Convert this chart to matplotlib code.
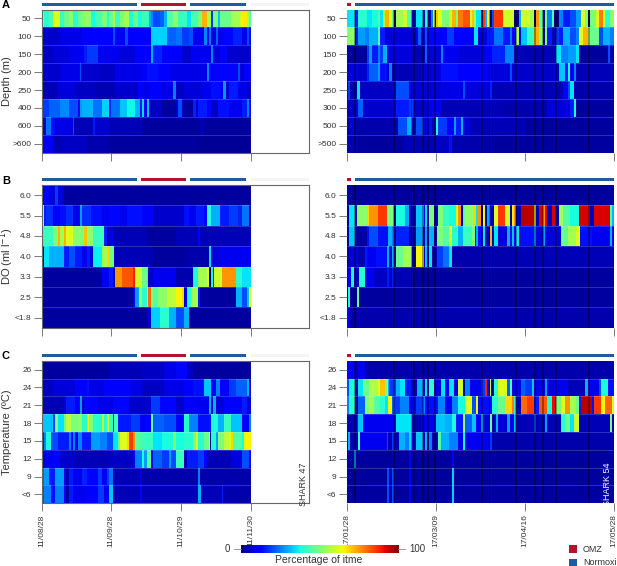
import numpy as np
import matplotlib
matplotlib.use("Agg")
import matplotlib.pyplot as plt
from matplotlib.patches import Rectangle

plt.rcParams['font.family'] = ['Liberation Sans', 'DejaVu Sans']

# Each row: (start day, percentage of time) change points
depth47_labels = ['50', '100', '150', '200', '250', '400', '600', '>600']
depth47 = [
 [(0,55),(1,40),(3,45),(5,62),(8,42),(10,48),(12,52),(14,40),(16,48),(18,52),(22,38),(24,44),(27,50),(29,40),(30,48),(32,58),(33,42),(35,50),(37,55),(39,38),(41,48),(43,38),(45,42),(48,30),(49,25),(50,20),(53,22),(55,30),(56,45),(59,52),(61,42),(65,35),(67,44),(70,50),(72,72),(74,55),(76,18),(77,50),(79,32),(80,48),(85,55),(89,60),(90,66),(92,55),(93,45)],
 [(0,7),(8,9),(18,11),(32,20),(33,10),(37.5,20),(38.5,11),(49,33),(56,22),(60,24),(63,18),(66,20),(68,10),(73,26),(74,10),(75,24),(76,8),(78,22),(79,10),(82,13),(86,16),(90,10),(92,20),(93,10)],
 [(0,6),(5,8),(12,10),(19,15),(20,18),(25,10),(35,8),(42,11),(49,30),(50,16),(54,11),(63,7),(67,10),(75,8),(76,25),(77,8),(80,12),(83,7)],
 [(0,7),(8,9),(17,20),(17.6,7),(25,6),(33,9),(45,11),(47,14),(52,12),(58,9),(74,26),(75,11),(80,13),(88,20),(89,8),(91,12)],
 [(0,5),(7,8),(15,6),(24,5),(33,7),(43,12),(46,9),(48,12),(54,9),(59,25),(60,6),(64,8),(72,10),(76,14),(80,11),(81.5,28),(82.5,8),(84,15),(88,9),(92,6)],
 [(0,18),(3,22),(8,26),(12,20),(16,10),(17,28),(18,30),(23,24),(27,33),(30,15),(31,24),(35,32),(38,37),(42,30),(44,14),(45,34),(46,12),(47,32),(48,6),(54,3),(60,6),(61,20),(63,6),(64,3),(68,16),(69,6),(70,15),(74,12),(76,6),(79,14),(84,10),(90,15),(92,25),(93,10)],
 [(0,9),(1,6),(2,24),(4,14),(6,9),(14,20),(14.5,5),(23,15),(24,7),(30,5),(45,3),(71,5),(73,3)],
 [(0,10),(5,5),(10,6),(20,4),(30,3),(70,2)],
]
do_labels = ['6.0', '5.5', '4.8', '4.0', '3.3', '2.5', '<1.8']
do47 = [
 [(0,8),(1,12),(3,8),(6,18),(7,8),(10,3)],
 [(0,60),(0.7,15),(2,17),(5,12),(8,14),(11,17),(14,9),(17,28),(18,17),(22,14),(27,10),(30,13),(35,10),(38,14),(45,11),(50,7),(64,14),(66,10),(69,15),(73,12),(74,40),(76,30),(80,15),(84,18),(88,16),(90,24),(93,5)],
 [(0,42),(5,50),(7,72),(8,55),(10,72),(11,62),(14,52),(17,50),(19,70),(20,52),(23,42),(28,15),(29,6),(30,9),(32,5),(47,3),(60,5),(70,12),(71,5)],
 [(0,8),(1,35),(3,30),(10,15),(12,20),(15,15),(18,10),(20,15),(21.5,8),(23,36),(27,55),(29,68),(30,48),(32.5,5),(50,3),(65,4),(75,35),(76,8),(80,10)],
 [(0,3),(27,10),(30,15),(32,7),(33,75),(36,82),(41,88),(42,60),(45,48),(47,40),(47.5,6),(50,10),(60,4),(68,38),(70,55),(74,62),(75,3),(76,38),(77,5),(77.5,60),(81,75),(87,40),(90,35)],
 [(0,3),(41,12),(42,28),(43.5,50),(45,40),(47,60),(47.5,80),(49,50),(50,45),(52,52),(56,58),(60,65),(63,68),(64,10),(65,40),(67,55),(70,15),(71,3),(87,30),(90,20),(92,32),(93,60)],
 [(0,3),(47.5,8),(49,33),(53,40),(57,30),(60,20),(64,30),(66,10),(66.5,3)],
]
temp_labels = ['26', '24', '21', '18', '15', '12', '9', '<6']
temp47 = [
 [(0,3),(30,5),(45,6),(55,9),(60,13),(65,6),(68,3)],
 [(0,6),(5,8),(15,12),(20,14),(21,9),(28,11),(40,9),(45,6),(55,9),(64,11),(68,14),(73,32),(76,12),(78,25),(80,12),(84,18),(87,22),(92,30),(93,6)],
 [(0,5),(10,7),(11,15),(15,11),(17,28),(18,6),(19,13),(25,9),(32,13),(39,7),(49,18),(53,13),(60,7),(64,12),(68,10),(75,30),(76,8),(77,30),(78,8),(82,12),(90,15),(92,8)],
 [(0,32),(5,18),(6,52),(7,35),(10,48),(11,58),(13,50),(16,52),(18,40),(20,65),(21,50),(23,40),(27,58),(28,40),(29,60),(30,42),(32,15),(32.5,42),(34,15),(40,18),(44,12),(49,48),(50,22),(55,20),(60,13),(64,40),(66,25),(70,14),(75,15),(76,38),(79,30),(82,42),(85,32),(90,12),(93,25)],
 [(0,15),(1,25),(2,38),(4,20),(7,15),(12,25),(13,12),(14,25),(15,10),(16,25),(18,15),(22,28),(26,25),(29,20),(32,35),(34,48),(35,62),(38,68),(39,85),(41,75),(42,45),(45,42),(50,35),(54,38),(59,50),(60,38),(64,40),(68,50),(69,62),(70,40),(73,48),(75,62),(75.5,5),(76,40),(78,28),(79,50),(82,58),(84,62),(85,68),(86,45),(90,38),(91,65)],
 [(0,8),(2,10),(5,12),(8,7),(15,5),(30,6),(41,12),(42,25),(45,38),(46,28),(47,45),(49,10),(50,22),(54,18),(57,28),(58,20),(60,42),(64,5),(65,15),(70,18),(73,12),(74,5),(85,8),(90,20),(93,10)],
 [(0,22),(1,28),(3,15),(6,28),(10,10),(11,4),(12,15),(14,10),(18,16),(20,12),(25,18),(27,10),(29,18),(30,24),(32,5),(44,8),(45,4),(70,25),(71,4)],
 [(0,20),(1,25),(4,14),(6,25),(10,12),(11,3),(12,15),(14,10),(20,12),(25,18),(28,10),(30,32),(32,5),(44,12),(45,5),(70,30),(71.5,5),(80,4),(81,15),(81.5,4)],
]
depth54_labels = ['50', '100', '150', '200', '250', '300', '500', '>500']
depth54 = [
 [(0,35),(3.5,0),(4,15),(5,40),(9,35),(11,38),(14,45),(15,35),(16,58),(17,72),(19,62),(20,48),(21,0),(22,55),(25,60),(27,45),(29,5),(31,35),(34,5),(35,40),(36.5,5),(37.5,25),(38.5,60),(39.5,5),(40,70),(41,62),(42.5,50),(46,60),(47,72),(49,50),(50,78),(52,82),(55,60),(56,70),(57,55),(58,35),(60,0),(61,85),(62,30),(63,65),(64,0),(65,20),(66,85),(70,60),(75,0),(77,30),(78,60),(82,55),(84,0),(85,75),(86,45),(88,0),(89,50),(90,25),(92,45),(93,0),(95,25),(97,15),(100,20),(103,28),(105,62),(107,50),(108.4,0),(109,50),(112,62),(113,78),(115,60),(116,40),(118,52)],
 [(0,52),(3.5,0),(4,15),(5,28),(8,25),(10,30),(14,45),(15,15),(17,8),(29,4),(31,12),(32,22),(33,8),(35,20),(36,8),(37,12),(45,18),(48,12),(57,35),(59,8),(63,15),(66,24),(70,15),(73,24),(74,12),(76,55),(77,12),(78,32),(81,42),(84,72),(86,50),(88,0),(89,50),(90,15),(92,5),(94,18),(95,15),(97,30),(100,20),(103,25),(104,62),(106,72),(108,55),(109,48),(113,20),(115,30),(118,25)],
 [(0,3),(9,18),(10,28),(11,15),(14,25),(15,18),(16,30),(18,8),(29,5),(35,22),(36,8),(42,25),(43,10),(50,8),(62,12),(65,16),(71,25),(75,5),(94,35),(96,25),(99,28),(103,35),(104,3),(117,20),(118,4)],
 [(0,5),(1,9),(5,7),(9,16),(10,22),(14,28),(15,14),(18,7),(19,25),(20,5),(30,5),(33,8),(42,14),(50,11),(58,12),(63,8),(73,20),(74,7),(95,32),(98,15),(99,38),(100,10),(102,25),(103,5)],
 [(0,5),(0.5,18),(1.5,5),(4.5,35),(6,6),(22,20),(28,8),(42,9),(52,20),(53,8),(64,16),(65,5),(97,12),(99,20),(100,35),(102,4)],
 [(0,6),(4,8),(5,22),(7,7),(22,15),(28,18),(30,7),(36,10),(42,5),(70,4),(90,8),(100,15),(102,38),(103,3)],
 [(0,3),(1,8),(3,4),(23,20),(27,30),(29,5),(31,20),(34,8),(37,14),(38,5),(40,38),(41,18),(45,12),(48,28),(49,15),(51,30),(52,8),(55,5),(80,3)],
 [(0,5),(5,3),(25,5),(40,6),(46,14),(47,4),(65,3)],
]
do54 = [
 [(0,3)],
 [(0,3),(1,35),(3.5,3),(4.5,52),(9,68),(10,75),(14,85),(18,50),(21,3),(22,38),(26,30),(28,5),(31,32),(34.5,10),(35,35),(36,8),(37,50),(39,5),(41,50),(43,42),(46,38),(49,62),(50,75),(51,5),(52,48),(53,52),(57,68),(58,35),(59,75),(60,5),(61,65),(62,5),(63,30),(64,5),(66,62),(68,85),(71,60),(73,5),(74,66),(75,75),(76,5),(78,95),(84,65),(85,5),(86,92),(88,75),(89,92),(90,5),(92,92),(94,5),(95,55),(97,45),(100,38),(104,92),(109,5),(111,92),(118,45),(119,30)],
 [(0,3),(1,32),(3.5,3),(9,14),(10,20),(14,14),(18,10),(18.5,30),(20,25),(21,4),(22,16),(28,4),(31,28),(34,4),(35,28),(36,4),(37,30),(39,3),(40.5,50),(43,45),(46,62),(47,40),(50,30),(52,42),(56,50),(57.5,10),(58,30),(59,14),(61,35),(62,5),(64,72),(65,5),(66,35),(68,8),(72,30),(73,10),(74,32),(75,10),(76,35),(77,5),(78,14),(84,30),(85,8),(88,28),(89,8),(96,48),(99,55),(103,62),(104.5,14),(110,10),(118,30),(119,10)],
 [(0,3),(1,8),(5,5),(8,15),(9,10),(13,14),(18,30),(19,8),(20,30),(21,5),(22,48),(25,55),(29,3),(31,65),(34.5,8),(35,32),(36,5),(37,35),(38,4),(40.5,18),(43,24),(46,35),(47,4),(78,5)],
 [(0,3),(0.5,12),(2,38),(3,6),(5.5,40),(8,10),(12,6),(18,15),(19,5),(20,15),(21,5),(29,3)],
 [(0,3),(0.5,38),(1.5,3),(4.5,48),(5.5,3)],
 [(0,12),(1,4)],
]
temp54 = [
 [(0,12),(3.5,4),(5,10),(8,4)],
 [(0,20),(1,38),(3.5,3),(5,35),(7,48),(10,56),(14,62),(15,70),(17,50),(18,55),(18.5,30),(19,18),(22,30),(24,35),(26,15),(29,5),(31.5,30),(34,5),(35,35),(36,8),(37,40),(39,8),(42,35),(44,12),(46,35),(48,8),(50,60),(52,5),(53,25),(55,10),(60,18),(62,88),(63,10),(64,60),(64.5,5),(66,40),(68,62),(72,22),(73,45),(74,10),(78,22),(80,18),(83,32),(84,10),(89,28),(90,8),(93,10),(99,5),(107,30),(108,10),(113,20),(114,38),(117,14)],
 [(0,25),(1,40),(3.5,3),(5,22),(8,50),(10,55),(12,45),(15,40),(17,35),(18.5,65),(20,22),(21,18),(24,25),(28,10),(31,18),(34,25),(35,14),(41,25),(44,12),(47,25),(50,38),(53,62),(56,20),(58,65),(59,14),(65,40),(68,48),(71,68),(74,78),(75,40),(76,5),(78,80),(81,85),(84,15),(86,82),(90,38),(92,90),(94,50),(96,62),(98,75),(100,55),(103,48),(104,14),(105,95),(110,14),(111,85),(114,65),(116,80),(119,60)],
 [(0,5),(4.5,15),(5,32),(7,10),(22,35),(29,5),(33,10),(40,32),(44,30),(47,38),(49,15),(52,55),(53,22),(56,32),(58,12),(60,35),(61,8),(64,48),(65,5),(67,30),(68,8),(72,28),(73,10),(75,32),(76,5),(84,22),(85,5),(89,28),(90,5),(96,40),(98,48),(100,35),(102,60),(104,5),(118,50),(119,5)],
 [(0,12),(0.5,30),(1.5,5),(5,42),(6,10),(18,20),(18.5,5),(20,18),(21,5),(23.5,30),(26,25),(28,35),(29,8),(31,32),(34,5),(35,30),(36,5),(37,25),(38,5),(41,45),(42,30),(46,25),(50,10),(52,38),(53,10),(64,18),(65,4)],
 [(0,3),(3,30),(4,3),(28,10),(29,3),(47,12),(48,3)],
 [(0,3),(18,20),(19,3),(20,20),(21,3),(28,10),(29,3),(47,33),(48,3)],
 [(0,3),(18,20),(19,3),(20,20),(21,3),(28,10),(29,3),(47,33),(48,3)],
]

# (start day, end day, state) of the oxygen state bars above each panel
states47 = [(0,42.6,'Normoxia'),(44.7,64.9,'OMZ'),(66.7,91.6,'Normoxia'),(94,120,'none')]
states54 = [(0,2,'OMZ'),(3.6,120,'Normoxia')]
ticks47 = [0, 31, 62.6, 94]
ticklabels47 = ['11/08/28', '11/09/28', '11/10/29', '11/11/30']
ticks54 = [0, 40, 80, 120]
ticklabels54 = ['17/01/28', '17/03/09', '17/04/16', '17/05/28']
gaps54 = [3.5, 21, 29, 30, 34, 36.5, 39.5, 60.5, 64, 76, 84.5, 88, 94, 108.5]
last_day47 = 94
last_day54 = 120

W, H = 617, 566
fig = plt.figure(figsize=(W/100, H/100), dpi=100)
state_colors = {'Normoxia': '#1f5c9e', 'OMZ': '#b5122f', 'none': '#f4f4f4'}
grey = '#666666'
txt = '#333333'

def axes_px(x0, x1, y0, y1):
    return fig.add_axes([x0/W, 1-y1/H, (x1-x0)/W, (y1-y0)/H])

def panel(x0, x1, y0, y1, rows, labels, last, states, ticks, ticklabels, gaps, frame, bottom):
    ax = axes_px(x0, x1, y0, y1)
    n = len(rows)
    for i, row in enumerate(rows):
        starts = [p[0] for p in row] + [last]
        vals = np.array([[p[1] for p in row]], float)
        ax.pcolormesh(starts, [n-i-1, n-i], vals, cmap='jet', vmin=0, vmax=100, linewidth=0)
    for g in gaps:
        ax.axvspan(g-0.4, g+0.4, color='black', alpha=0.35, lw=0)
    for k in range(1, n):
        ax.plot([0, last], [k, k], color='white', alpha=0.22, lw=0.6, solid_capstyle='butt')
    ax.set_xlim(0, 120)
    ax.set_ylim(0, n)
    ax.set_yticks(np.arange(n)+0.5)
    ax.set_yticklabels(labels[::-1], fontsize=6, color=txt)
    ax.set_xticks(ticks)
    ax.tick_params(axis='y', length=6, width=0.6, color=grey, pad=1.5)
    ax.tick_params(axis='x', length=6, width=0.6, color=grey, pad=2)
    if bottom:
        ax.set_xticklabels(ticklabels, rotation=90, fontsize=6, color=txt)
    else:
        ax.set_xticklabels([])
    for s in ax.spines.values():
        s.set_visible(frame)
        s.set_color(grey)
        s.set_linewidth(0.8)
    trans = ax.get_xaxis_transform()
    hpx = y1 - y0
    for a, b, st in states:
        ax.add_patch(Rectangle((a, 1+3.6/hpx), b-a, 3.2/hpx, transform=trans,
                               color=state_colors[st], lw=0, clip_on=False))
    return ax

LX0, LX1, RX0, RX1 = 42, 309, 347, 614.3
Y = {'A': (9.5, 152.7), 'B': (185, 327.7), 'C': (360.7, 503.3)}
spec = [('A', depth47, depth47_labels, depth54, depth54_labels, 'Depth (m)', False),
        ('B', do47, do_labels, do54, do_labels, 'DO (ml l$^{-1}$)', False),
        ('C', temp47, temp_labels, temp54, temp_labels, 'Temperature (ºC)', True)]
for key, l_rows, l_lab, r_rows, r_lab, ylab, bottom in spec:
    y0, y1 = Y[key]
    panel(LX0, LX1, y0, y1, l_rows, l_lab, last_day47, states47, ticks47, ticklabels47, [], True, bottom)
    ax2 = panel(RX0, RX1, y0, y1, r_rows, r_lab, last_day54, states54, ticks54, ticklabels54, gaps54, False, bottom)
    fig.text(7/W, 1-((y0+y1)/2)/H, ylab, rotation=90, ha='center', va='center', fontsize=8, color=txt)
    fig.text(2/W, 1-(y0-4.5)/H, key, ha='left', va='center', fontsize=8, fontweight='bold', color='black')

fig.text(303/W, 1-484/H, 'SHARK 47', rotation=90, ha='center', va='center', fontsize=6.5, color=txt)
fig.text(608/W, 1-484/H, 'SHARK 54', rotation=90, ha='center', va='center', fontsize=6.5, color='white')

# Colour bar
cax = axes_px(241, 398.3, 545, 552.7)
cax.imshow(np.linspace(0, 100, 256)[None, :], cmap='jet', vmin=0, vmax=100, aspect='auto', extent=[0, 100, 0, 1])
cax.set_xticks([]); cax.set_yticks([])
for s in cax.spines.values():
    s.set_visible(False)
overlay = fig.add_axes([0, 0, 1, 1]); overlay.axis('off')
overlay.set_xlim(0, W); overlay.set_ylim(H, 0)
overlay.plot([234, 241], [549, 549], color='#888888', lw=0.6)
overlay.plot([398.3, 405], [549, 549], color='#888888', lw=0.6)
overlay.text(230, 549, '0', ha='right', va='center', fontsize=7, color=txt)
overlay.text(409, 549, '100', ha='left', va='center', fontsize=7, color=txt)
overlay.text(319, 560, 'Percentage of itme', ha='center', va='center', fontsize=7.5, color=txt)
overlay.add_patch(Rectangle((569, 545), 8, 8, color=state_colors['OMZ'], lw=0))
overlay.add_patch(Rectangle((569, 559), 8, 7, color=state_colors['Normoxia'], lw=0))
overlay.text(583, 549, 'OMZ', ha='left', va='center', fontsize=6.5, color=txt)
overlay.text(583, 562.5, 'Normoxia', ha='left', va='center', fontsize=6.5, color=txt)

fig.savefig('out.png', dpi=100)
